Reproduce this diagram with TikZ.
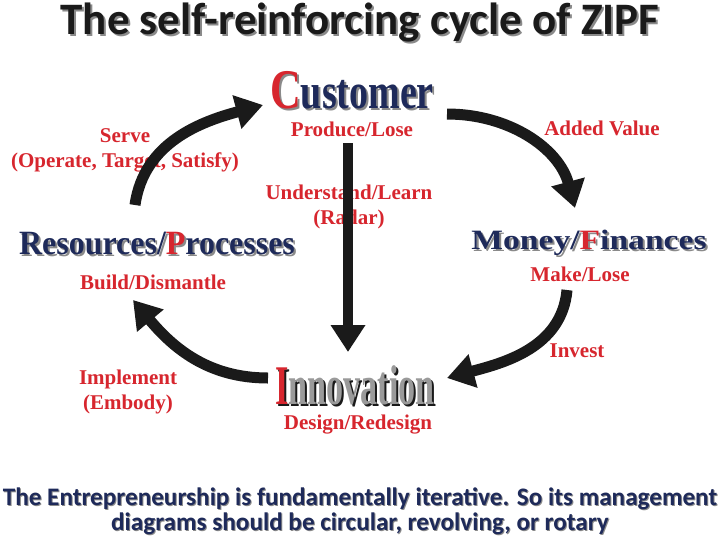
\documentclass[tikz,border=0pt]{standalone}
\usepackage{fontspec}
\setmainfont{Liberation Serif}
\newfontfamily\carl{Carlito}
\usetikzlibrary{arrows.meta,calc}
\definecolor{zred}{HTML}{D7262E}
\definecolor{znavy}{HTML}{1E2A5A}
\definecolor{zshadow}{HTML}{8A8A8A}
\definecolor{zdark}{HTML}{1A1A1A}
\definecolor{zsilver}{HTML}{9A9A9A}
\newcommand\zw[3]{\scalebox{#1}[1]{\fontsize{#2}{#2}\selectfont\bfseries #3}}
\begin{document}
\begin{tikzpicture}[x=1pt,y=1pt,
  lbl/.style={text=zred,font=\fontsize{21}{21}\selectfont\bfseries,inner sep=0pt,anchor=base},
  big/.style={inner sep=0pt},
  cyc/.style={line width=11pt,draw=zdark,-{Triangle[width=33pt,length=27pt]}},
  ttl/.style={inner sep=0pt,anchor=base,font=\carl\bfseries\fontsize{45}{45}\selectfont},
  foot/.style={inner sep=0pt,anchor=base,font=\carl\bfseries\fontsize{25.2}{25.2}\selectfont}]
\useasboundingbox[fill=white] (0,0) rectangle (720,-542);

% title
\node[ttl,text=zshadow] (title-s) at (362,-36) {The self-reinforcing cycle of ZIPF};
\node[ttl,text=zdark] (title) at (360,-34) {The self-reinforcing cycle of ZIPF};

% big words
\node[big,text=zshadow] (cust-s) at (354,-92) {\zw{0.76}{50}{{\fontsize{56}{56}\selectfont C}ustomer}};
\node[big] (cust) at (352,-90) {\zw{0.76}{50}{\textcolor{zred}{\fontsize{56}{56}\selectfont C}\textcolor{znavy}{ustomer}}};

\node[big,text=zshadow] (res-s) at (159,-246) {\zw{0.94}{34}{Resources/Processes}};
\node[big] (res) at (157,-244) {\zw{0.94}{34}{\textcolor{znavy}{Resources/}\textcolor{zred}{P}\textcolor{znavy}{rocesses}}};

\node[big,text=zshadow] (mon-s) at (591,-245) {\zw{1.2}{28}{Money/Finances}};
\node[big] (mon) at (589,-243) {\zw{1.2}{28}{\textcolor{znavy}{Money/}\textcolor{zred}{F}\textcolor{znavy}{inances}}};

\node[big,text=zdark] (inn-s) at (357,-387) {\zw{0.61}{56}{Innovation}};
\node[big] (inn) at (355,-385) {\zw{0.61}{56}{\textcolor{zred}{I}\textcolor{zsilver}{nnovation}}};

% sub labels
\node[lbl] (cust-l) at (352,-136) {Produce/Lose};
\node[lbl] (res-l) at (153,-289) {Build/Dismantle};
\node[lbl] (mon-l) at (580,-281) {Make/Lose};
\node[lbl] (inn-l) at (358,-429) {Design/Redesign};

% arrow labels
\node[lbl] (serve1) at (125,-142) {Serve};
\node[lbl] (serve2) at (125,-167) {(Operate, Target, Satisfy)};
\node[lbl] (added) at (602,-135) {Added Value};
\node[lbl] (und1) at (349,-199) {Understand/Learn};
\node[lbl] (und2) at (349,-224) {(Radar)};
\node[lbl] (invest) at (577,-357) {Invest};
\node[lbl] (impl1) at (128,-384) {Implement};
\node[lbl] (impl2) at (128,-409) {(Embody)};

% arrows
\draw[cyc] ($(res)+(-22,39)$) to[out=82,in=195] ($(cust)+(-89,-15)$);
\draw[cyc] ($(cust)+(95,-24)$) to[out=0,in=105] ($(mon)+(-14,35)$);
\draw[cyc] ($(mon)+(-22,-47)$) to[out=-95,in=15] ($(inn)+(92,7)$);
\draw[cyc] ($(inn)+(-87,7)$) to[out=180,in=-50] ($(res)+(-24,-56)$);
\draw[cyc,line width=10pt] ($(cust)+(-4,-53)$) -- ($(inn)+(-7,33)$);

% footer
\node[foot,text=zshadow] (foot1-s) at (361,-506) {The Entrepreneurship is fundamentally iterative. So its management};
\node[foot,text=znavy] (foot1) at (360,-505) {The Entrepreneurship is fundamentally iterative. So its management};
\node[foot,text=zshadow] (foot2-s) at (361,-531) {diagrams should be circular, revolving, or rotary};
\node[foot,text=znavy] (foot2) at (360,-530) {diagrams should be circular, revolving, or rotary};
\end{tikzpicture}
\end{document}
